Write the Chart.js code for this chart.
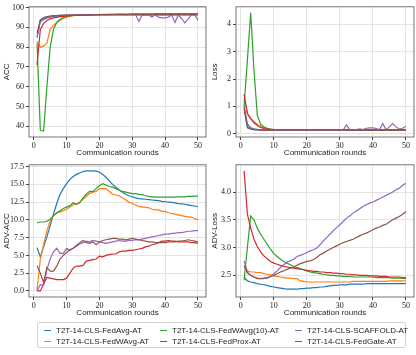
<!DOCTYPE html>
<html>
<head>
<meta charset="utf-8">
<script src="https://cdn.jsdelivr.net/npm/chart.js@4/dist/chart.umd.min.js"></script>
<style>
body { margin: 0; width: 416px; height: 355px; background: #fff; position: relative; overflow: hidden; font-family: "Liberation Sans", sans-serif; }
canvas { position: absolute; }
#legend { position: absolute; left: 37px; top: 322px; width: 369px; height: 26px; border: 1px solid #d0d0d0; border-radius: 2px; box-sizing: border-box; }
.item { position: absolute; font-size: 8px; color: #222; white-space: nowrap; line-height: 10px; }
.item i { display: inline-block; width: 7px; height: 1.2px; vertical-align: middle; margin-right: 5px; margin-top: -1px; }
</style>
</head>
<body>
<canvas id="acc" width="208" height="160" style="left:0;top:0"></canvas>
<canvas id="loss" width="208" height="160" style="left:208px;top:0"></canvas>
<canvas id="advAcc" width="208" height="162" style="left:0;top:158px"></canvas>
<canvas id="advLoss" width="208" height="162" style="left:208px;top:158px"></canvas>
<div id="legend"></div>
<script>
const rounds = [1,2,3,4,5,6,7,8,9,10,11,12,13,14,15,16,17,18,19,20,21,22,23,24,25,26,27,28,29,30,31,32,33,34,35,36,37,38,39,40,41,42,43,44,45,46,47,48,49,50]
const names = ['T2T-14-CLS-FedAvg-AT','T2T-14-CLS-FedWAvg-AT','T2T-14-CLS-FedWAvg(10)-AT','T2T-14-CLS-FedProx-AT','T2T-14-CLS-SCAFFOLD-AT','T2T-14-CLS-FedGate-AT']
const colors = ['#1f77b4','#ff7f0e','#2ca02c','#d62728','#9467bd','#8c564b']
const xTicks = [0,10,20,30,40,50]

// ACC
const accFedAvg = [85,93,94,94.8,95.2,95.5,95.7,95.8,95.9,96,96,96.1,96.1,96.1,96.2,96.2,96.2,96.2,96.3,96.3,96.3,96.3,96.3,96.3,96.3,96.3,96.3,96.3,96.3,96.3,96.3,96.3,96.3,96.3,96.3,96.3,96.3,96.3,96.3,96.3,96.3,96.3,96.3,96.3,96.3,96.3,96.3,96.3,96.3,96.3]
const accFedWAvg = [83,80,80.5,82,89,91,92.5,93.5,94.5,95.2,95.6,95.9,96,96.1,96.2,96.3,96.3,96.4,96.4,96.5,96.5,96.5,96.6,96.6,96.6,96.7,96.7,96.7,96.7,96.8,96.8,96.8,96.8,96.8,96.8,96.9,96.9,96.9,96.9,96.9,96.9,96.9,96.9,96.9,96.9,96.9,96.9,96.9,96.9,96.9]
const accFedWAvg10 = [82,38,37.6,60,80,89,92.5,94,95,95.5,95.8,96,96.1,96.2,96.2,96.3,96.3,96.3,96.4,96.4,96.4,96.4,96.4,96.5,96.5,96.5,96.5,96.5,96.5,96.5,96.5,96.5,96.5,96.5,96.5,96.5,96.5,96.5,96.5,96.5,96.5,96.5,96.5,96.5,96.5,96.5,96.5,96.5,96.5,96.5]
const accFedProx = [71,89,92,93.5,94.3,94.8,95.1,95.4,95.6,95.8,95.9,96,96.1,96.2,96.2,96.3,96.3,96.4,96.4,96.4,96.5,96.5,96.5,96.5,96.6,96.6,96.6,96.6,96.6,96.7,96.7,96.7,96.7,96.7,96.7,96.7,96.8,96.8,96.8,96.8,96.8,96.8,96.8,96.8,96.8,96.8,96.8,96.8,96.8,96.8]
const accScaffold = [85,93.5,94.5,95.2,95.6,95.8,96,96.1,96.2,96.2,96.3,96.3,96.4,96.4,96.4,96.5,96.5,96.5,96.5,96.5,96.6,96.6,96.6,96.6,96.6,96.6,96.6,96.4,96.6,96.6,96.5,93,96.2,96.3,96.3,95.2,96.2,95.2,94.8,94.8,95.2,96.3,92.5,96.3,94.5,92.3,94.2,96.3,96.3,93.7]
const accFedGate = [87,93.8,95,95.5,95.7,95.9,96,96.1,96.1,96.2,96.2,96.2,96.3,96.3,96.3,96.3,96.3,96.4,96.4,96.4,96.4,96.4,96.4,96.4,96.4,96.4,96.4,96.4,96.4,96.4,96.4,96.4,96.4,96.4,96.4,96.4,96.4,96.4,96.4,96.4,96.4,96.4,96.4,96.4,96.4,96.4,96.4,96.4,96.4,96.4]
const accTicks = [40,50,60,70,80,90,100]

// Loss
const lossFedAvg = [1.0,0.35,0.22,0.18,0.16,0.15,0.14,0.14,0.13,0.13,0.13,0.13,0.13,0.13,0.13,0.13,0.13,0.12,0.12,0.12,0.12,0.12,0.12,0.12,0.12,0.12,0.12,0.12,0.12,0.12,0.12,0.12,0.12,0.12,0.12,0.12,0.12,0.12,0.12,0.12,0.12,0.12,0.12,0.12,0.12,0.12,0.12,0.12,0.12,0.12]
const lossFedWAvg = [1.3,0.7,0.55,0.45,0.35,0.28,0.22,0.18,0.16,0.15,0.14,0.14,0.13,0.13,0.13,0.13,0.13,0.13,0.12,0.12,0.12,0.12,0.12,0.12,0.12,0.12,0.12,0.12,0.12,0.12,0.12,0.12,0.12,0.12,0.12,0.12,0.12,0.12,0.12,0.12,0.12,0.12,0.12,0.12,0.12,0.12,0.12,0.12,0.12,0.12]
const lossFedWAvg10 = [1.0,2.7,4.42,2.3,0.68,0.35,0.25,0.2,0.17,0.15,0.14,0.14,0.13,0.13,0.13,0.13,0.13,0.13,0.13,0.13,0.13,0.13,0.13,0.13,0.13,0.13,0.13,0.13,0.13,0.13,0.13,0.13,0.13,0.13,0.13,0.13,0.13,0.13,0.13,0.13,0.13,0.13,0.13,0.13,0.13,0.13,0.13,0.13,0.13,0.13]
const lossFedProx = [1.45,0.75,0.55,0.4,0.3,0.23,0.19,0.17,0.16,0.15,0.14,0.14,0.14,0.14,0.14,0.14,0.14,0.14,0.14,0.14,0.14,0.14,0.14,0.14,0.14,0.14,0.14,0.14,0.14,0.14,0.14,0.14,0.14,0.14,0.14,0.14,0.14,0.14,0.14,0.14,0.14,0.14,0.14,0.14,0.14,0.14,0.14,0.14,0.14,0.14]
const lossScaffold = [0.95,0.25,0.18,0.15,0.14,0.13,0.13,0.12,0.12,0.12,0.12,0.12,0.12,0.12,0.12,0.12,0.12,0.12,0.12,0.12,0.12,0.12,0.12,0.12,0.12,0.12,0.12,0.12,0.12,0.12,0.13,0.32,0.14,0.14,0.15,0.18,0.15,0.2,0.21,0.21,0.19,0.15,0.37,0.15,0.25,0.37,0.25,0.17,0.2,0.27]
const lossFedGate = [0.9,0.22,0.17,0.15,0.14,0.13,0.13,0.13,0.13,0.13,0.13,0.13,0.13,0.13,0.13,0.13,0.13,0.13,0.13,0.13,0.13,0.13,0.13,0.13,0.13,0.13,0.13,0.13,0.13,0.13,0.13,0.13,0.13,0.13,0.13,0.13,0.13,0.13,0.13,0.13,0.13,0.13,0.13,0.13,0.13,0.13,0.13,0.13,0.13,0.13]
const lossTicks = [0,1,2,3,4]

// ADV-ACC
const advAccFedAvg = [6.1,4.8,6.2,7.6,9.2,10.8,12.3,13.6,14.4,15.1,15.7,16.1,16.4,16.6,16.8,16.9,16.9,16.9,16.85,16.7,16.4,16.0,15.5,15.0,14.6,14.2,13.9,13.6,13.4,13.25,13.1,13.0,12.95,12.9,12.85,12.8,12.75,12.7,12.6,12.55,12.5,12.45,12.4,12.3,12.25,12.2,12.1,12.0,11.95,11.85]
const advAccFedWAvg = [0.1,4.5,6.5,8.5,9.8,10.6,11.0,11.1,11.3,11.5,11.8,12.1,12.2,12.5,12.9,13.3,13.7,13.9,14.0,14.4,14.4,14.4,14.0,13.6,13.5,13.4,13.1,12.8,12.5,12.3,12.1,11.9,11.8,11.8,11.7,11.5,11.4,11.4,11.2,11.2,11.0,10.9,10.8,10.7,10.6,10.5,10.4,10.4,10.2,10.0]
const advAccFedWAvg10 = [9.6,9.7,9.7,9.8,10.1,10.6,11.0,11.3,11.6,11.8,12.0,12.4,12.2,12.4,13.1,13.6,14.0,14.0,14.4,14.8,15.1,14.9,14.7,14.6,14.4,14.2,14.0,13.9,13.8,13.7,13.7,13.6,13.55,13.4,13.3,13.25,13.25,13.2,13.2,13.2,13.2,13.2,13.2,13.25,13.25,13.25,13.3,13.3,13.35,13.35]
const advAccFedProx = [0,0,1.0,1.9,1.8,1.7,1.6,1.6,1.6,1.8,2.5,3.2,3.5,3.5,3.6,4.2,4.3,4.4,4.5,4.9,4.8,5.0,5.1,5.2,5.2,5.5,5.6,5.6,5.7,5.7,5.8,5.9,6.0,6.2,6.3,6.5,6.6,6.8,7.0,7.0,7.1,7.0,7.0,6.9,6.9,6.9,6.9,6.8,6.8,6.7]
const advAccScaffold = [0,0.9,0.8,3.0,4.5,5.5,6.0,5.3,5.3,6.0,5.7,6.0,6.3,6.6,6.8,7.0,6.9,7.1,7.0,6.9,6.8,6.7,6.8,6.9,7.0,7.1,7.0,7.0,7.1,7.1,7.2,7.2,7.3,7.4,7.5,7.6,7.7,7.8,7.9,8.0,8.0,8.1,8.1,8.2,8.2,8.3,8.4,8.4,8.5,8.5]
const advAccFedGate = [3.6,2.5,1.2,3.3,2.8,2.8,3.5,4.5,5.0,5.4,5.8,6.0,6.4,6.8,7.1,6.8,6.7,6.9,6.5,6.9,7.1,7.2,7.3,7.4,7.4,7.3,7.3,7.2,7.3,7.4,7.3,7.2,7.1,7.0,6.9,6.9,6.8,6.8,6.8,6.8,6.9,6.9,6.9,7.0,7.0,7.1,7.2,7.1,7.0,6.9]
const advAccTicks = [0,2.5,5,7.5,10,12.5,15,17.5]

// ADV-Loss
const advLossFedAvg = [2.47,2.40,2.38,2.37,2.35,2.34,2.33,2.32,2.30,2.29,2.28,2.27,2.26,2.25,2.25,2.25,2.25,2.26,2.26,2.27,2.27,2.28,2.28,2.29,2.29,2.30,2.31,2.32,2.32,2.33,2.33,2.33,2.34,2.34,2.34,2.34,2.34,2.35,2.35,2.35,2.35,2.35,2.35,2.35,2.35,2.35,2.35,2.35,2.35,2.35]
const advLossFedWAvg = [2.65,2.58,2.56,2.56,2.55,2.55,2.53,2.52,2.51,2.49,2.48,2.47,2.46,2.45,2.45,2.44,2.44,2.40,2.39,2.38,2.38,2.38,2.38,2.38,2.38,2.38,2.38,2.38,2.38,2.38,2.38,2.38,2.38,2.39,2.39,2.39,2.39,2.39,2.39,2.39,2.39,2.39,2.39,2.39,2.40,2.40,2.40,2.40,2.40,2.40]
const advLossFedWAvg10 = [2.41,3.0,3.57,3.5,3.35,3.24,3.15,3.06,2.97,2.89,2.84,2.79,2.75,2.72,2.69,2.66,2.64,2.62,2.60,2.58,2.56,2.55,2.54,2.53,2.52,2.51,2.50,2.50,2.49,2.49,2.48,2.48,2.48,2.47,2.47,2.47,2.47,2.47,2.47,2.47,2.46,2.46,2.46,2.46,2.46,2.45,2.45,2.45,2.45,2.44]
const advLossFedProx = [4.38,3.6,3.35,3.15,3.02,2.92,2.85,2.8,2.75,2.72,2.70,2.68,2.66,2.65,2.64,2.63,2.62,2.61,2.60,2.59,2.58,2.57,2.57,2.56,2.56,2.55,2.55,2.54,2.54,2.53,2.53,2.52,2.52,2.51,2.51,2.50,2.50,2.50,2.49,2.49,2.49,2.48,2.48,2.48,2.47,2.47,2.47,2.47,2.46,2.46]
const advLossScaffold = [2.76,2.56,2.50,2.47,2.45,2.44,2.44,2.45,2.48,2.53,2.58,2.64,2.69,2.74,2.76,2.79,2.84,2.86,2.88,2.91,2.94,2.96,2.99,3.05,3.12,3.18,3.24,3.30,3.36,3.41,3.47,3.53,3.57,3.62,3.66,3.70,3.74,3.77,3.80,3.82,3.85,3.88,3.91,3.94,3.97,4.0,4.04,4.07,4.12,4.16]
const advLossFedGate = [2.68,2.54,2.50,2.47,2.44,2.44,2.45,2.46,2.48,2.50,2.53,2.56,2.58,2.61,2.63,2.65,2.68,2.71,2.73,2.75,2.76,2.78,2.82,2.87,2.90,2.94,2.97,3.00,3.03,3.06,3.09,3.11,3.13,3.15,3.18,3.21,3.24,3.26,3.29,3.32,3.35,3.37,3.40,3.42,3.46,3.50,3.53,3.56,3.60,3.65]
const advLossTicks = [2.5,3.0,3.5,4.0]

const tickFont = { family: '"Liberation Serif", serif', size: 8 }
const titleFont = { family: '"Liberation Sans", sans-serif', size: 8 }

// box around the plot area, like matplotlib spines
const frame = {
  id: 'frame',
  afterDraw: (chart) => {
    const { ctx, chartArea: a } = chart
    ctx.save()
    ctx.strokeStyle = '#555'
    ctx.lineWidth = 0.8
    ctx.strokeRect(a.left, a.top, a.right - a.left, a.bottom - a.top)
    ctx.restore()
  }
}

const makeChart = (id, yLabel, series, yMin, yMax, yTicks, yFmt, yWidth) => {
  return new Chart(document.getElementById(id), {
    type: 'line',
    data: {
      datasets: series.map((d, i) => ({
        label: names[i],
        data: d.map((v, j) => ({ x: rounds[j], y: v })),
        borderColor: colors[i],
        borderWidth: 1.2,
        pointRadius: 0,
        tension: 0,
        order: series.length - i
      }))
    },
    options: {
      responsive: false,
      animation: false,
      devicePixelRatio: 1,
      layout: { padding: { top: 4, right: 2, left: 0, bottom: 0 } },
      plugins: { legend: { display: false }, tooltip: { enabled: false } },
      scales: {
        x: {
          type: 'linear',
          min: -1.45,
          max: 52.45,
          afterBuildTicks: (s) => { s.ticks = xTicks.map(v => ({ value: v })) },
          afterFit: (s) => { s.height = 23 },
          grid: { color: '#e3e3e3', tickColor: '#444', tickLength: 3 },
          border: { display: false },
          ticks: { font: tickFont, color: '#222', padding: 1, maxRotation: 0 },
          title: { display: true, text: 'Communication rounds', font: titleFont, color: '#222', padding: { top: 0, bottom: 2 } }
        },
        y: {
          min: yMin,
          max: yMax,
          afterBuildTicks: (s) => { s.ticks = yTicks.map(v => ({ value: v })) },
          afterFit: (s) => { s.width = yWidth },
          grid: { color: '#e3e3e3', tickColor: '#444', tickLength: 3 },
          border: { display: false },
          ticks: { font: tickFont, color: '#222', padding: 2, callback: yFmt },
          title: { display: true, text: yLabel, font: titleFont, color: '#222', padding: { top: 2, bottom: 2 } }
        }
      }
    },
    plugins: [frame]
  })
}

const plain = (v) => String(v)
const oneDec = (v) => v.toFixed(1)

makeChart('acc', 'ACC', [accFedAvg, accFedWAvg, accFedWAvg10, accFedProx, accScaffold, accFedGate], 34.6, 100.4, accTicks, plain, 29)
makeChart('loss', 'Loss', [lossFedAvg, lossFedWAvg, lossFedWAvg10, lossFedProx, lossScaffold, lossFedGate], -0.12, 4.64, lossTicks, plain, 28)
makeChart('advAcc', 'ADV-ACC', [advAccFedAvg, advAccFedWAvg, advAccFedWAvg10, advAccFedProx, advAccScaffold, advAccFedGate], -0.85, 17.75, advAccTicks, oneDec, 29)
makeChart('advLoss', 'ADV-Loss', [advLossFedAvg, advLossFedWAvg, advLossFedWAvg10, advLossFedProx, advLossScaffold, advLossFedGate], 2.11, 4.49, advLossTicks, oneDec, 28)

// legend, three columns in matplotlib order (column by column)
const legend = document.getElementById('legend')
const colX = [6, 122, 257]
names.forEach((n, i) => {
  const el = document.createElement('div')
  el.className = 'item'
  el.style.left = colX[Math.floor(i / 2)] + 'px'
  el.style.top = (i % 2 === 0 ? 3 : 14) + 'px'
  el.innerHTML = `<i style="background:${colors[i]}"></i>${n}`
  legend.appendChild(el)
})
</script>
</body>
</html>
